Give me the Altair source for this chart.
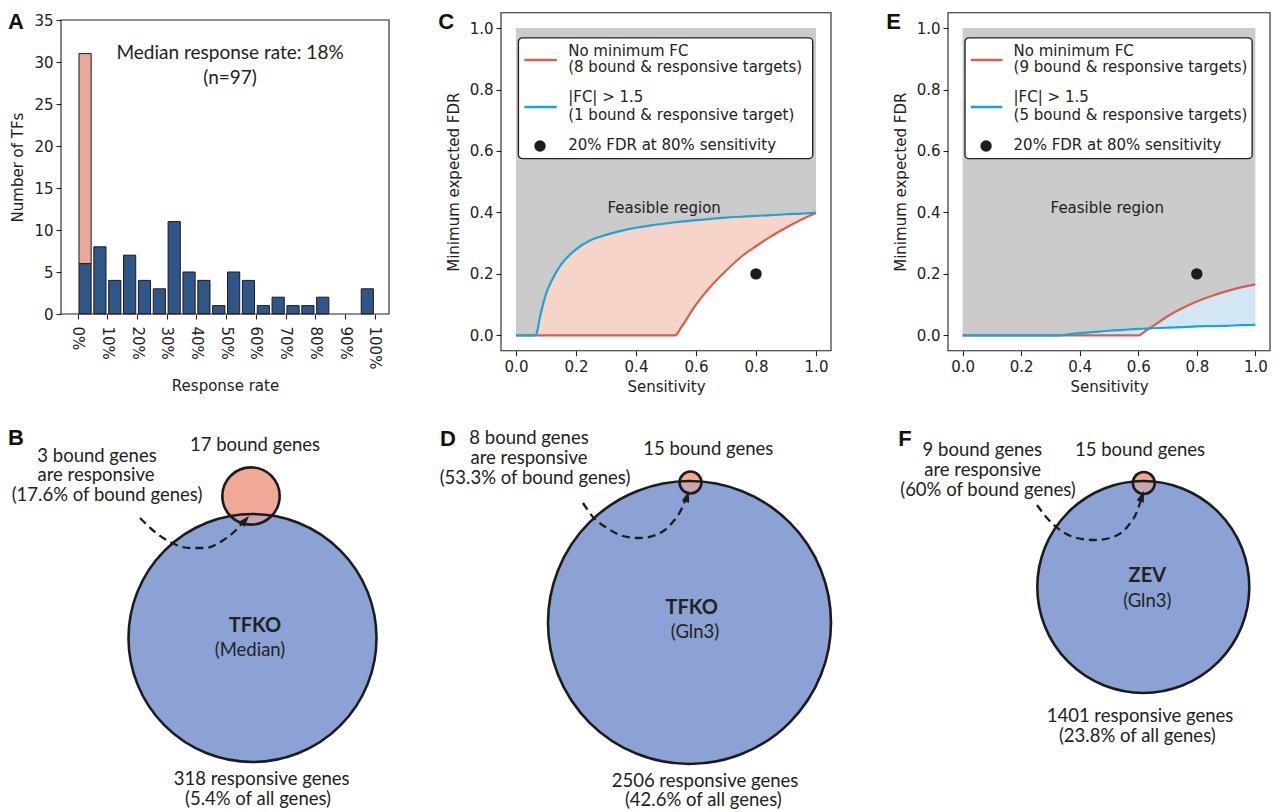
import altair as alt
import pandas as pd

# ===================== DATA =====================
# Panel A: number of TFs per response-rate bin (5 % bins)
bin_start = [0, 5, 10, 15, 20, 25, 30, 35, 40, 45, 50, 55, 60, 65, 70, 75, 80, 85, 90, 95]
tf_counts = [6, 8, 4, 7, 4, 3, 11, 5, 4, 1, 5, 4, 1, 2, 1, 1, 2, 0, 0, 3]
zero_rate_extra = 25  # pink part stacked on the first bin (6 -> 31)
a_xticks = [0, 10, 20, 30, 40, 50, 60, 70, 80, 90, 100]
a_yticks = [0, 5, 10, 15, 20, 25, 30, 35]
a_note = ["Median response rate: 18%", "(n=97)"]

# Panel C: minimum expected FDR vs sensitivity (TFKO, Gln3)
c_sens = [0.0, 0.03, 0.065, 0.07, 0.08, 0.09, 0.10, 0.12, 0.15, 0.20, 0.25, 0.30, 0.35, 0.40,
          0.45, 0.50, 0.531, 0.55, 0.60, 0.65, 0.70, 0.75, 0.80, 0.85, 0.90, 0.95, 1.0]
c_nofc = [0, 0, 0, 0, 0, 0, 0, 0, 0, 0, 0, 0, 0, 0, 0, 0, 0,
          0.025, 0.10, 0.16, 0.21, 0.255, 0.29, 0.322, 0.35, 0.376, 0.398]
c_fc15 = [0, 0, 0, 0.01, 0.06, 0.10, 0.135, 0.18, 0.23, 0.28, 0.31, 0.327, 0.34, 0.35,
          0.358, 0.364, 0.368, 0.37, 0.375, 0.379, 0.383, 0.386, 0.389, 0.391, 0.394, 0.396, 0.399]
c_legend = ["No minimum FC", "(8 bound & responsive targets)", "|FC| > 1.5",
            "(1 bound & responsive target)", "20% FDR at 80% sensitivity"]

# Panel E: minimum expected FDR vs sensitivity (ZEV, Gln3)
e_sens = [0.0, 0.2, 0.333, 0.35, 0.40, 0.45, 0.50, 0.55, 0.60, 0.63, 0.65, 0.70, 0.75, 0.80,
          0.85, 0.90, 0.95, 1.0]
e_nofc = [0, 0, 0, 0, 0, 0, 0, 0, 0, 0.018, 0.03, 0.062, 0.088, 0.11, 0.128, 0.143, 0.156, 0.166]
e_fc15 = [0, 0, 0, 0.002, 0.007, 0.011, 0.015, 0.018, 0.021, 0.022, 0.023, 0.025, 0.027, 0.029,
          0.030, 0.031, 0.033, 0.034]
e_legend = ["No minimum FC", "(9 bound & responsive targets)", "|FC| > 1.5",
            "(5 bound & responsive targets)", "20% FDR at 80% sensitivity"]

fdr_ticks = [0.0, 0.2, 0.4, 0.6, 0.8, 1.0]
target_sens = [0.8]
target_fdr = [0.2]

# Panels B, D, F: responsive genes (big circle) and bound genes (small circle)
b_counts = [318, 17]
d_counts = [2506, 15]
f_counts = [1401, 15]
b_text = ["17 bound genes", "3 bound genes", "are responsive", "(17.6% of bound genes)",
          "(Median)", "318 responsive genes", "(5.4% of all genes)"]
b_bold = ["TFKO"]
d_text = ["15 bound genes", "8 bound genes", "are responsive", "(53.3% of bound genes)",
          "(Gln3)", "2506 responsive genes", "(42.6% of all genes)"]
d_bold = ["TFKO"]
f_text = ["15 bound genes", "9 bound genes", "are responsive", "(60% of bound genes)",
          "(Gln3)", "1401 responsive genes", "(23.8% of all genes)"]
f_bold = ["ZEV"]
panel_letters = ["A", "B", "C", "D", "E", "F"]

# ===================== LAYOUT / STYLE =====================
W, H = 1264, 802
INK = "#222222"
EDGE = "#1c1c1c"
BAR_BLUE = "#2f5686"
BAR_PINK = "#e9a899"
RED = "#d6604d"
CYAN = "#1fa4d2"
GREY = "#cbcbcb"
PINK_FILL = "#f6d4c9"
BLUE_FILL = "#d2e7f3"
CIRCLE_BLUE = "#8ca3d5"
CIRCLE_PINK = "#f0a996"
SANS = "Lato"
DEJAVU = "DejaVu Sans"
ARROW = "M0,-1L0.62,0.85L-0.62,0.85Z"

PX = alt.Scale(domain=[0, W], range=[0, W], nice=False, zero=False)
PY = alt.Scale(domain=[0, H], range=[0, H], nice=False, zero=False)


def ax(**kw):
    base = dict(domain=False, grid=False, labelOverlap=False, labelFlush=False, tickSize=5,
                tickWidth=1.1, tickColor=INK, labelColor=INK, titleColor=INK, labelFont=DEJAVU,
                labelFontSize=15, titleFont=DEJAVU, titleFontSize=15, titleFontWeight="normal")
    base.update(kw)
    return alt.Axis(**base)


# ---------- Panel A ----------
A_LEFT, A_RIGHT, A_TOP, A_BOTTOM = 53, 381, 12, 306
A_XDOM, A_YDOM = [-5.6, 104.8], [0, 35]
AX = alt.Scale(domain=A_XDOM, range=[A_LEFT, A_RIGHT], nice=False, zero=False)
AY = alt.Scale(domain=A_YDOM, range=[A_BOTTOM, A_TOP], nice=False, zero=False)
A_XAXIS = ax(orient="bottom", offset=-(H - A_BOTTOM), values=a_xticks, labelExpr="datum.value + '%'",
             labelAngle=90, labelAlign="left", labelBaseline="middle", labelPadding=7,
             title="Response rate", titlePadding=10)
A_YAXIS = ax(orient="left", offset=-A_LEFT, values=a_yticks, title="Number of TFs", labelPadding=3,
             titlePadding=8)


def ax_a(xf, yf):
    return dict(x=alt.X(xf, scale=AX, axis=A_XAXIS), y=alt.Y(yf, scale=AY, axis=A_YAXIS))


bars_df = pd.DataFrame({"start": bin_start, "count": tf_counts})
bars_df = bars_df[bars_df["count"] > 0].copy()
bars_df["lo"] = bars_df["start"] + 0.45
bars_df["hi"] = bars_df["start"] + 4.55
bars_df["base"] = 0

blue_bars = alt.Chart(bars_df).mark_bar(color=BAR_BLUE, stroke=EDGE, strokeWidth=1, opacity=1).encode(
    **ax_a("lo:Q", "count:Q"), x2="hi:Q", y2="base:Q")
pink_df = pd.DataFrame({"lo": [bin_start[0] + 0.45], "hi": [bin_start[0] + 4.55],
                        "y0": [tf_counts[0]], "y1": [tf_counts[0] + zero_rate_extra]})
pink_bar = alt.Chart(pink_df).mark_bar(color=BAR_PINK, stroke=EDGE, strokeWidth=1, opacity=1).encode(
    **ax_a("lo:Q", "y0:Q"), x2="hi:Q", y2="y1:Q")
a_frame = alt.Chart(pd.DataFrame({"x": [A_XDOM[0]], "x2": [A_XDOM[1]], "y": [A_YDOM[0]], "y2": [A_YDOM[1]]})
                    ).mark_rect(fillOpacity=0, stroke=INK, strokeWidth=1.1).encode(
    **ax_a("x:Q", "y:Q"), x2="x2:Q", y2="y2:Q")
a_note_df = pd.DataFrame({"t": a_note, "x": [51.3, 51.3], "y": [31.04, 28.06]})
a_notes = alt.Chart(a_note_df).mark_text(font=SANS, fontSize=19, color=INK).encode(
    **ax_a("x:Q", "y:Q"), text="t:N")
panel_a = alt.layer(blue_bars, pink_bar, a_frame, a_notes)

# ---------- Panels C and E ----------
FDR_DOM = [-0.05, 1.05]
FDR_TOP, FDR_BOTTOM = 4.7, 342.7


def fdr_panel(sens, red, blue, between_color, legend_labels, left, right):
    XS = alt.Scale(domain=FDR_DOM, range=[left, right], nice=False, zero=False)
    YS = alt.Scale(domain=FDR_DOM, range=[FDR_BOTTOM, FDR_TOP], nice=False, zero=False)
    XA = ax(orient="bottom", offset=-(H - FDR_BOTTOM), values=fdr_ticks, format=".1f",
            title="Sensitivity", labelPadding=4, titlePadding=5)
    YA = ax(orient="left", offset=-left, values=fdr_ticks, format=".1f",
            title="Minimum expected FDR", labelPadding=3, titlePadding=8)

    def xy(xf, yf):
        return dict(x=alt.X(xf, scale=XS, axis=XA), y=alt.Y(yf, scale=YS, axis=YA))

    df = pd.DataFrame({"s": sens, "red": red, "blue": blue})
    df["lo"] = df[["red", "blue"]].min(axis=1)
    df["hi"] = df[["red", "blue"]].max(axis=1)
    df["ceiling"] = 1.0
    grey = alt.Chart(df).mark_area(color=GREY, interpolate="monotone", opacity=1).encode(
        **xy("s:Q", "hi:Q"), y2="ceiling:Q")
    between = alt.Chart(df).mark_area(color=between_color, interpolate="monotone", opacity=1).encode(
        **xy("s:Q", "lo:Q"), y2="hi:Q")
    red_line = alt.Chart(df).mark_line(color=RED, strokeWidth=2.2, interpolate="monotone").encode(
        **xy("s:Q", "red:Q"))
    blue_line = alt.Chart(df).mark_line(color=CYAN, strokeWidth=2.2, interpolate="monotone").encode(
        **xy("s:Q", "blue:Q"))
    dot = alt.Chart(pd.DataFrame({"s": target_sens, "f": target_fdr})).mark_circle(
        color=EDGE, size=130, opacity=1).encode(**xy("s:Q", "f:Q"))
    box = alt.Chart(pd.DataFrame({"x": [0.008], "x2": [0.989], "y": [0.575], "y2": [0.968]})).mark_rect(
        fill="white", stroke=INK, strokeWidth=1.4, cornerRadius=4).encode(
        **xy("x:Q", "y:Q"), x2="x2:Q", y2="y2:Q")
    swatch = alt.Chart(pd.DataFrame({"x": [0.028, 0.028], "x2": [0.136, 0.136], "y": [0.896, 0.743],
                                     "c": [RED, CYAN]})).mark_rule(strokeWidth=2.4).encode(
        **xy("x:Q", "y:Q"), x2="x2:Q", color=alt.Color("c:N", scale=None))
    sw_dot = alt.Chart(pd.DataFrame({"x": [0.08], "y": [0.616]})).mark_circle(
        color=EDGE, size=130, opacity=1).encode(**xy("x:Q", "y:Q"))
    leg_txt = alt.Chart(pd.DataFrame({"t": legend_labels, "x": [0.174] * 5,
                                      "y": [0.926, 0.872, 0.775, 0.718, 0.618]})).mark_text(
        font=DEJAVU, fontSize=15, color=INK, align="left", baseline="middle").encode(
        **xy("x:Q", "y:Q"), text="t:N")
    feas = alt.Chart(pd.DataFrame({"t": ["Feasible region"], "x": [0.494], "y": [0.416]})).mark_text(
        font=DEJAVU, fontSize=15, color=INK, align="center", baseline="middle").encode(
        **xy("x:Q", "y:Q"), text="t:N")
    frame = alt.Chart(pd.DataFrame({"x": [FDR_DOM[0]], "x2": [FDR_DOM[1]], "y": [FDR_DOM[0]],
                                    "y2": [FDR_DOM[1]]})).mark_rect(
        fillOpacity=0, stroke=INK, strokeWidth=1.1).encode(**xy("x:Q", "y:Q"), x2="x2:Q", y2="y2:Q")
    return alt.layer(grey, between, red_line, blue_line, dot, box, swatch, sw_dot, leg_txt, feas, frame)


panel_c = fdr_panel(c_sens, c_nofc, c_fc15, PINK_FILL, c_legend, 493, 823)
panel_e = fdr_panel(e_sens, e_nofc, e_fc15, BLUE_FILL, e_legend, 940, 1262)


# ---------- Panels B, D, F ----------
def venn(counts, cx, cy, r_big, texts, tx, ty, bold, bx, by, arrow_x, arrow_y, head):
    df = pd.DataFrame({"n": counts, "cx": cx, "cy": cy, "role": ["big", "small"]})
    S = alt.Scale(domain=[0, counts[0]], range=[0, (2 * r_big) ** 2], zero=True, nice=False)
    enc = dict(x=alt.X("cx:Q", scale=PX, axis=None), y=alt.Y("cy:Q", scale=PY, axis=None),
               size=alt.Size("n:Q", scale=S, legend=None))
    base = alt.Chart(df)
    big = base.transform_filter(alt.datum.role == "big")
    small = base.transform_filter(alt.datum.role == "small")
    l1 = big.mark_circle(color=CIRCLE_BLUE, opacity=1).encode(**enc)
    l2 = small.mark_circle(color=CIRCLE_PINK, opacity=1).encode(**enc)
    l3 = big.mark_circle(color=CIRCLE_BLUE, opacity=0.42).encode(**enc)
    l4 = base.mark_point(shape="circle", filled=False, color=EDGE, strokeWidth=2.6, opacity=1).encode(**enc)
    arr = alt.Chart(pd.DataFrame({"x": arrow_x, "y": arrow_y, "i": list(range(len(arrow_x)))})).mark_line(
        color=EDGE, strokeWidth=2.3, strokeDash=[8, 5], interpolate="monotone").encode(
        x=alt.X("x:Q", scale=PX, axis=None), y=alt.Y("y:Q", scale=PY, axis=None), order="i:Q")
    hd = alt.Chart(pd.DataFrame({"x": [head[0]], "y": [head[1]], "a": [head[2]]})).mark_point(
        shape=ARROW, filled=True, color=EDGE, size=150, opacity=1).encode(
        x=alt.X("x:Q", scale=PX, axis=None), y=alt.Y("y:Q", scale=PY, axis=None),
        angle=alt.Angle("a:Q", scale=None))
    txt = alt.Chart(pd.DataFrame({"t": texts, "x": tx, "y": ty})).mark_text(
        font=SANS, fontSize=18.5, color=INK, align="center", baseline="middle").encode(
        x=alt.X("x:Q", scale=PX, axis=None), y=alt.Y("y:Q", scale=PY, axis=None), text="t:N")
    btxt = alt.Chart(pd.DataFrame({"t": bold, "x": bx, "y": by})).mark_text(
        font=SANS, fontSize=20, fontWeight="bold", color=INK, align="center",
        baseline="middle").encode(
        x=alt.X("x:Q", scale=PX, axis=None), y=alt.Y("y:Q", scale=PY, axis=None), text="t:N")
    return alt.layer(l1, l2, l3, l4, arr, hd, txt, btxt)


venn_b = venn(b_counts, [244.5, 243], [630, 488], 124, b_text,
              [247, 89, 88, 99, 242, 253.7, 250], [437, 447.5, 467, 486.5, 642, 771, 790.5],
              b_bold, [247], [617.7],
              [132, 147, 162, 182, 197, 214, 228, 236], [510, 524, 534, 540, 540, 533, 522, 513],
              (237, 512.5, 42))
venn_d = venn(d_counts, [681.5, 682.5], [614.5, 474.5], 141.5, d_text,
              [700.3, 521, 521, 527, 687, 697, 695.3], [441.3, 430, 450, 470, 623.7, 772.5, 792],
              d_bold, [683.7], [600.3],
              [575, 585, 599, 615, 632, 650, 664, 674, 678], [495, 509, 520, 528, 530, 526, 515, 500, 490],
              (679.1, 488.8, 18))
venn_f = venn(f_counts, [1135.3, 1135.8], [579, 475], 106, f_text,
              [1132, 974.3, 974.7, 980, 1139.3, 1132, 1129.3], [442, 442, 462, 482, 592.7, 708, 728],
              f_bold, [1139.3], [568],
              [1029, 1039, 1052, 1069, 1087, 1105, 1120, 1130, 1133.5], [497, 510, 522, 530, 532, 529, 518, 501, 490],
              (1134, 488.6, 20))

letters = alt.Chart(pd.DataFrame({"t": panel_letters,
                                  "x": [0, 0, 430.3, 432, 878.3, 890.3],
                                  "y": [21, 437, 21, 438, 21, 438]})).mark_text(
    font="Liberation Sans", fontSize=22, fontWeight="bold", color="#111111", align="left",
    baseline="alphabetic").encode(
    x=alt.X("x:Q", scale=PX, axis=None), y=alt.Y("y:Q", scale=PY, axis=None), text="t:N")

chart = alt.layer(panel_a, panel_c, panel_e, venn_b, venn_d, venn_f, letters).resolve_scale(
    x="independent", y="independent", size="independent"
).properties(
    width=W, height=H, autosize=alt.AutoSizeParams(type="none"), padding=0, background="white"
).configure_view(stroke=None)

chart.save("out.html", embed_options={"renderer": "svg", "actions": False})
